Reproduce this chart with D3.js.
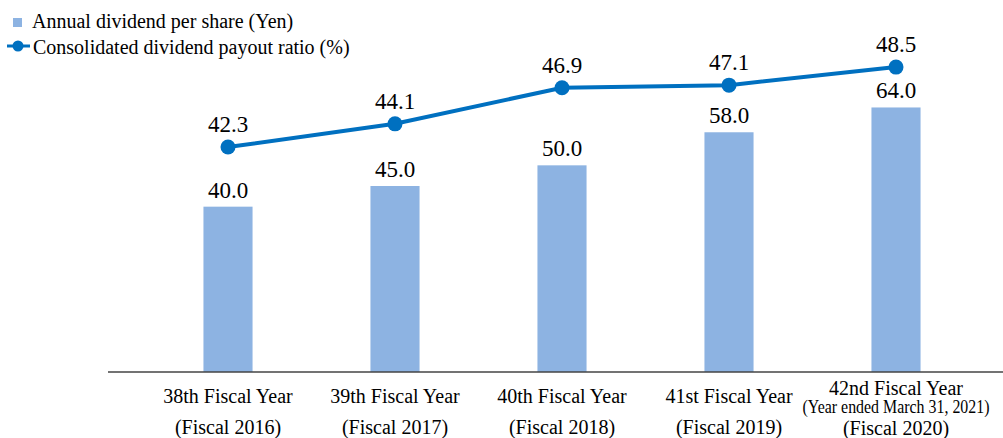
<!DOCTYPE html>
<html>
<head>
<meta charset="utf-8">
<script src="https://cdn.jsdelivr.net/npm/d3@7"></script>
<style>
  body { margin: 0; background: #fff; }
</style>
</head>
<body>
<div id="viz"></div>
<script>
const width = 1003;
const height = 438;
const barColor = '#8DB3E2';
const lineColor = '#0070C0';
const font = "'Liberation Serif', 'Times New Roman', serif";

// data
const categories = ['38th', '39th', '40th', '41st', '42nd'];
const labelLine1 = ['38th Fiscal Year', '39th Fiscal Year', '40th Fiscal Year', '41st Fiscal Year', '42nd Fiscal Year'];
const labelLine2 = ['(Fiscal 2016)', '(Fiscal 2017)', '(Fiscal 2018)', '(Fiscal 2019)', '(Fiscal 2020)'];
const yearEndNote = '(Year ended March 31, 2021)';
const dividend = [40.0, 45.0, 50.0, 58.0, 64.0];
const payout = [42.3, 44.1, 46.9, 47.1, 48.5];

const baseY = 372;

const svg = d3.select('#viz')
  .append('svg')
    .attr('width', width)
    .attr('height', height)
    .attr('viewBox', [0, 0, width, height])
    .style('font-family', font)
    .attr('fill', '#000');

const x = d3.scaleBand()
  .domain(categories)
  .range([144.5, 979.5]);

const yBar = d3.scaleLinear()
  .domain([0, 90])
  .range([baseY, 0]);

const yLine = d3.scaleLinear()
  .domain([24.86, 53.7])
  .range([baseY, 0]);

const barW = x.bandwidth() * 0.294;
const cx = d => x(d) + x.bandwidth() / 2;

// bars
svg.append('g').selectAll('rect').data(categories).join('rect')
  .attr('x', d => cx(d) - barW / 2)
  .attr('y', (d, i) => yBar(dividend[i]))
  .attr('width', barW)
  .attr('height', (d, i) => baseY - yBar(dividend[i]))
  .attr('fill', barColor);

// bar labels
svg.append('g').selectAll('text').data(categories).join('text')
  .attr('x', d => cx(d))
  .attr('y', (d, i) => yBar(dividend[i]) - 9)
  .attr('text-anchor', 'middle')
  .attr('font-size', 23)
  .text((d, i) => dividend[i].toFixed(1));

// axis line
svg.append('line')
  .attr('x1', 108)
  .attr('x2', width)
  .attr('y1', baseY)
  .attr('y2', baseY)
  .attr('stroke', '#444')
  .attr('stroke-width', 1.5);

// payout line
const line = d3.line()
  .x((d, i) => cx(categories[i]))
  .y(d => yLine(d));

svg.append('path')
  .attr('d', line(payout))
  .attr('fill', 'none')
  .attr('stroke', lineColor)
  .attr('stroke-width', 4);

svg.append('g').selectAll('circle').data(payout).join('circle')
  .attr('cx', (d, i) => cx(categories[i]))
  .attr('cy', d => yLine(d))
  .attr('r', 7.5)
  .attr('fill', lineColor);

svg.append('g').selectAll('text').data(payout).join('text')
  .attr('x', (d, i) => cx(categories[i]))
  .attr('y', d => yLine(d) - 15)
  .attr('text-anchor', 'middle')
  .attr('font-size', 23)
  .text(d => d.toFixed(1));

// x labels
const xl = svg.append('g');
categories.forEach((c, i) => {
  const last = i === categories.length - 1;
  xl.append('text')
    .attr('x', cx(c))
    .attr('y', last ? 395 : 403)
    .attr('text-anchor', 'middle')
    .attr('font-size', 20)
    .text(labelLine1[i]);
  xl.append('text')
    .attr('x', cx(c))
    .attr('y', last ? 435 : 434)
    .attr('text-anchor', 'middle')
    .attr('font-size', 20)
    .text(labelLine2[i]);
  if (last) {
    // condensed note line
    xl.append('text')
      .attr('transform', `translate(${cx(c)},413) scale(0.86,1)`)
      .attr('text-anchor', 'middle')
      .attr('font-size', 18.5)
      .text(yearEndNote);
  }
});

// legend
const legend = svg.append('g');
legend.append('rect')
  .attr('x', 13).attr('y', 18)
  .attr('width', 9).attr('height', 9)
  .attr('fill', barColor);
legend.append('text')
  .attr('x', 32).attr('y', 28)
  .attr('font-size', 20)
  .text('Annual dividend per share (Yen)');
legend.append('line')
  .attr('x1', 7).attr('x2', 30)
  .attr('y1', 46).attr('y2', 46)
  .attr('stroke', lineColor)
  .attr('stroke-width', 3);
legend.append('circle')
  .attr('cx', 18).attr('cy', 46)
  .attr('r', 5.5)
  .attr('fill', lineColor);
legend.append('text')
  .attr('x', 33).attr('y', 54)
  .attr('font-size', 20)
  .text('Consolidated dividend payout ratio (%)');
</script>
</body>
</html>
